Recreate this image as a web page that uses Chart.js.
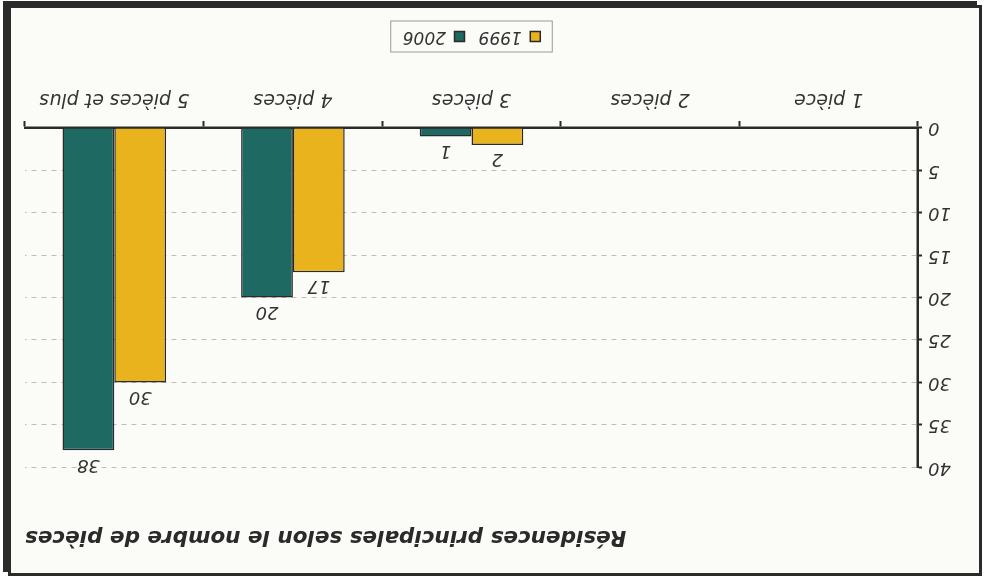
<!DOCTYPE html>
<html>
<head>
<meta charset="utf-8">
<script src="https://cdn.jsdelivr.net/npm/chart.js@4/dist/chart.umd.min.js"></script>
<style>
html, body { margin: 0; padding: 0; background: #ffffff; }
#wrap { position: relative; width: 985px; height: 581px; transform: rotate(180deg); overflow: hidden; }
#frame { position: absolute; left: 3px; top: 5px; width: 974px; height: 571px; box-sizing: border-box;
  border: 3px solid #2b2b2b; box-shadow: 5px 4px 0 #2b2b2b; background: #fbfbf8; }
#chart { position: absolute; left: 0; top: 0; }
</style>
</head>
<body>
<div id="wrap">
  <div id="frame"></div>
  <canvas id="chart" width="985" height="581"></canvas>
</div>
<script>
// Résidences principales par nombre de pièces
var categories = ['1 pièce', '2 pièces', '3 pièces', '4 pièces', '5 pièces et plus']
var values1999 = [null, null, 2, 17, 30]
var values2006 = [null, null, 1, 20, 38]
var yMin = 0
var yMax = 40
var yStep = 5

Chart.defaults.font.family = '"DejaVu Sans", sans-serif'
Chart.defaults.color = '#333333'

// valeurs au-dessus des barres
var valueLabels = {
	id: 'valueLabels',
	afterDatasetsDraw: function (chart) {
		var ctx = chart.ctx
		ctx.save()
		ctx.font = 'italic 18px "DejaVu Sans", sans-serif'
		ctx.fillStyle = '#333333'
		ctx.textAlign = 'center'
		ctx.textBaseline = 'bottom'
		chart.data.datasets.forEach(function (ds, i) {
			chart.getDatasetMeta(i).data.forEach(function (bar, j) {
				var v = ds.data[j]
				if (v === null) return
				ctx.fillText(v, bar.x, bar.y - 5)
			})
		})
		ctx.restore()
	}
}

// cadre autour de la légende
var legendBox = {
	id: 'legendBox',
	afterDraw: function (chart) {
		var hb = chart.legend.legendHitBoxes
		if (!hb || !hb.length) return
		var l = Infinity, r = -Infinity, t = Infinity, b = -Infinity
		hb.forEach(function (h) {
			l = Math.min(l, h.left); r = Math.max(r, h.left + h.width)
			t = Math.min(t, h.top); b = Math.max(b, h.top + h.height)
		})
		var ctx = chart.ctx
		ctx.save()
		ctx.strokeStyle = '#9a9a9a'
		ctx.lineWidth = 1
		ctx.strokeRect(l - 12, t - 7, r - l + 24, b - t + 14)
		ctx.restore()
	}
}

var ctx = document.getElementById('chart').getContext('2d')
var myChart = new Chart(ctx, {
	type: 'bar',
	data: {
		labels: categories,
		datasets: [{
			label: '1999',
			data: values1999,
			backgroundColor: '#e9b31d',
			borderColor: '#2a2a2a',
			borderWidth: 1.5,
			borderSkipped: 'bottom'
		}, {
			label: '2006',
			data: values2006,
			backgroundColor: '#1e6a62',
			borderColor: '#2a2a2a',
			borderWidth: 1.5,
			borderSkipped: 'bottom'
		}]
	},
	options: {
		responsive: false,
		animation: false,
		layout: { padding: { top: 20, left: 10, right: 25, bottom: 18 } },
		datasets: { bar: { categoryPercentage: 0.58, barPercentage: 1.0 } },
		plugins: {
			title: {
				display: true,
				text: 'Résidences principales selon le nombre de pièces',
				align: 'end',
				color: '#2a2a2a',
				font: { size: 21.5, weight: 'bold', style: 'italic' },
				padding: { top: 12, bottom: 56 }
			},
			legend: {
				position: 'bottom',
				fullSize: false,
				labels: {
					boxWidth: 10,
					boxHeight: 10,
					padding: 14,
					color: '#333333',
					font: { size: 17, style: 'italic' }
				}
			},
			tooltip: { enabled: false }
		},
		scales: {
			x: {
				grid: { display: true, drawOnChartArea: false, tickLength: 7, tickColor: '#2a2a2a', tickWidth: 2 },
				border: { display: true, color: '#2a2a2a', width: 2.5 },
				ticks: { padding: 11, color: '#333333', font: { size: 19, style: 'italic' } },
				afterFit: function (scale) { scale.height = 69 }
			},
			y: {
				min: yMin,
				max: yMax,
				ticks: { stepSize: yStep, padding: 6, color: '#333333', font: { size: 18, style: 'italic' } },
				grid: { color: '#bdbdbd', tickLength: 4, tickColor: '#2a2a2a', tickWidth: 2, lineWidth: 1 },
				border: { display: true, color: '#2a2a2a', width: 2.5, dash: [5, 5] },
				afterFit: function (scale) { scale.width = 57 }
			}
		}
	},
	plugins: [valueLabels, legendBox]
})
</script>
</body>
</html>
